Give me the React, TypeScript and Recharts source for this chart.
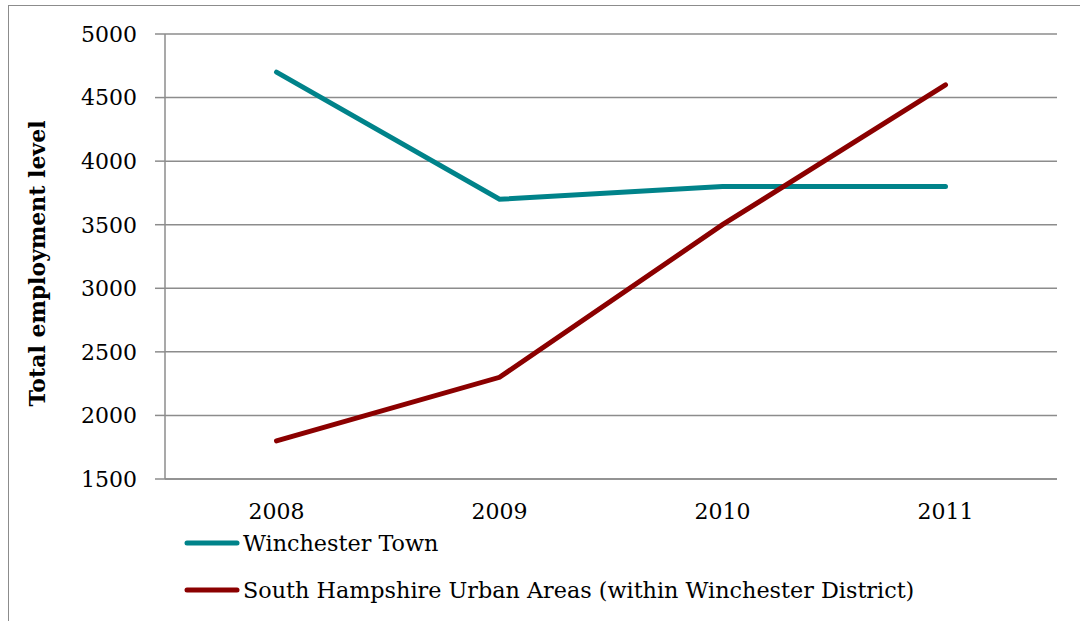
import { LineChart, Line, XAxis, YAxis, CartesianGrid, Label } from "recharts";

const years = ["2008", "2009", "2010", "2011"];
const winchesterTown = [4700, 3700, 3800, 3800];
const southHampshire = [1800, 2300, 3500, 4600];
const yTicks = [1500, 2000, 2500, 3000, 3500, 4000, 4500, 5000];
const yearBounds = [0, 1, 2, 3, 4];

const series = [
  { key: "winchester", name: "Winchester Town", color: "#00838a" },
  {
    key: "southHants",
    name: "South Hampshire Urban Areas (within Winchester District)",
    color: "#8b0000",
  },
];

const data = years.map((year, i) => ({
  year,
  winchester: winchesterTown[i],
  southHants: southHampshire[i],
}));

const FONT = "'DejaVu Serif', serif";
const AXIS_GREY = "#8c8c8c";

function YTitle({ viewBox }: any) {
  const x = 37;
  const y = viewBox.y + viewBox.height / 2 + 7;
  return (
    <text
      x={x}
      y={y}
      transform={`rotate(-90, ${x}, ${y})`}
      textAnchor="middle"
      dominantBaseline="central"
      fontFamily={FONT}
      fontWeight="bold"
      fontSize={22}
      fill="#000"
    >
      Total employment level
    </text>
  );
}

// legend sits under the x axis, one series per row
function LegendRows() {
  return (
    <div style={{ fontFamily: FONT, fontSize: 22.3, color: "#000" }}>
      {series.map((s) => (
        <div
          key={s.key}
          style={{ display: "flex", alignItems: "center", height: 47 }}
        >
          <svg width={58} height={10} style={{ marginRight: 2 }}>
            <line
              x1={4}
              y1={5}
              x2={54}
              y2={5}
              stroke={s.color}
              strokeWidth={5}
              strokeLinecap="round"
            />
          </svg>
          <span>{s.name}</span>
        </div>
      ))}
    </div>
  );
}

export default function App() {
  return (
    <div
      style={{
        position: "absolute",
        left: 0,
        top: 0,
        width: 1080,
        height: 621,
        overflow: "hidden",
        background: "#fff",
      }}
    >
      <div
        style={{
          position: "absolute",
          left: 8,
          top: 5,
          width: 1100,
          height: 700,
          border: `1.5px solid ${AXIS_GREY}`,
        }}
      />
      <div style={{ position: "absolute", left: 0, top: 0 }}>
        <LineChart
          width={1080}
          height={621}
          data={data}
          margin={{ top: 34, right: 23, left: 0, bottom: 112 }}
        >
          <CartesianGrid
            horizontal
            vertical={false}
            stroke={AXIS_GREY}
            strokeWidth={1.5}
          />
          <XAxis
            xAxisId="bounds"
            type="number"
            domain={[0, 4]}
            ticks={yearBounds}
            height={0}
            tick={false}
            tickSize={7}
            axisLine={false}
            tickLine={{ stroke: AXIS_GREY, strokeWidth: 1.5 }}
          />
          <XAxis
            dataKey="year"
            scale="band"
            height={30}
            tickSize={0}
            tickMargin={24}
            tickLine={false}
            axisLine={{ stroke: AXIS_GREY, strokeWidth: 1.5 }}
            tick={{ fontFamily: FONT, fontSize: 22, fill: "#000" }}
          />
          <YAxis
            width={165}
            domain={[1500, 5000]}
            ticks={yTicks}
            tickSize={10}
            tickMargin={18}
            axisLine={{ stroke: AXIS_GREY, strokeWidth: 1.5 }}
            tickLine={{ stroke: AXIS_GREY, strokeWidth: 1.5 }}
            tick={{ fontFamily: FONT, fontSize: 22, fill: "#000" }}
          >
            <Label content={<YTitle />} />
          </YAxis>
          {series.map((s) => (
            <Line
              key={s.key}
              dataKey={s.key}
              name={s.name}
              stroke={s.color}
              strokeWidth={5}
              strokeLinecap="round"
              dot={false}
              activeDot={false}
              type="linear"
              isAnimationActive={false}
            />
          ))}
        </LineChart>
      </div>
      <div style={{ position: "absolute", left: 183, top: 519 }}>
        <LegendRows />
      </div>
    </div>
  );
}
